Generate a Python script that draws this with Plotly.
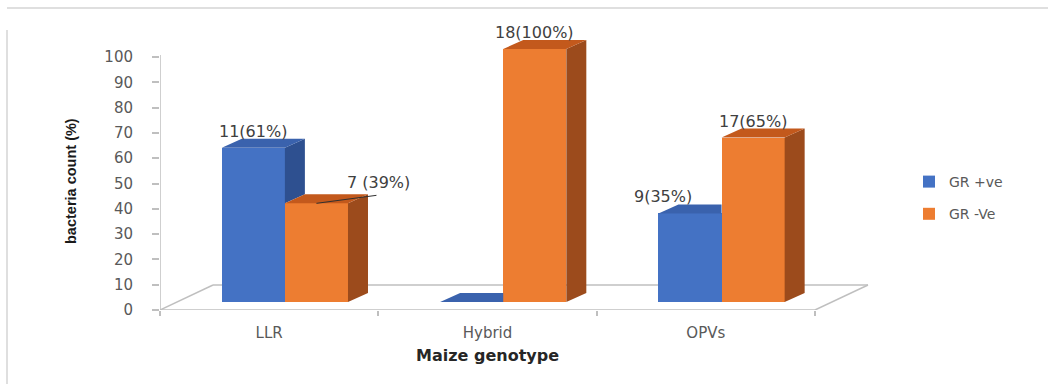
import plotly.graph_objects as go

# ---- data -------------------------------------------------------------
categories = ["LLR", "Hybrid", "OPVs"]
gr_pos_count = [11, 0, 9]
gr_pos_pct = [61, 0, 35]
gr_neg_count = [7, 18, 17]
gr_neg_pct = [39, 100, 65]
y_tick_values = list(range(0, 101, 10))
series_names = ["GR +ve", "GR -Ve"]

# ---- styling ------------------------------------------------------------
BLUE = {"front": "#4472C4", "side": "#2E5090", "top": "#3A62AD"}
ORANGE = {"front": "#ED7D31", "side": "#9C4B1C", "top": "#C3591C"}
GRID = "#BFBFBF"
TEXT = "#595959"
LABEL = "#404040"
FONT = "DejaVu Sans"

W, H = 1048, 384
PLOT_L, PLOT_R, PLOT_T, PLOT_B = 160, 900, 20, 310
PX_X = 655 / 3          # pixels per category
PX_Y = 2.53             # pixels per percentage point

X_RANGE = [-0.5, -0.5 + (PLOT_R - PLOT_L) / PX_X]
Y_RANGE = [0, (PLOT_B - PLOT_T) / PX_Y]

BASE = 8 / PX_Y                      # bars stand slightly back on the floor
DX, DY = 20 / PX_X, 9 / PX_Y         # depth of each box
BAR_W = 0.289
OFFSET_POS, OFFSET_NEG = -0.217, 0.072
FLOOR_DX, FLOOR_DY = 53 / PX_X, 25 / PX_Y

# label placement (pixel nudges from the top of each box)
pos_label_dx = [0, 0, -27]
neg_label_dx = [62, 0, 0]
pos_label_dy = [7.5, 7.5, 7.5]
neg_label_dy = [12, 7.5, 7.5]
neg_label_sep = [" ", "", ""]

xs = list(range(len(categories)))


def px_to_paper_x(px):
    return (px - PLOT_L) / (PLOT_R - PLOT_L)


def px_to_paper_y(py):
    return (PLOT_B - py) / (PLOT_B - PLOT_T)


def poly_trace(polys, color):
    px, py = [], []
    for poly in polys:
        for (a, b) in poly:
            px.append(a)
            py.append(b)
        px.append(poly[0][0])
        py.append(poly[0][1])
        px.append(None)
        py.append(None)
    return go.Scatter(x=px, y=py, mode="lines", fill="toself",
                      fillcolor=color, line=dict(width=0, color=color),
                      hoverinfo="skip", showlegend=False, connectgaps=False)


def box_faces(values, offset, neighbour=None):
    sides, tops = [], []
    for i, v in zip(xs, values):
        l = i + offset
        r = l + BAR_W
        top = BASE + v
        if neighbour is None:
            sides.append([(r, BASE), (r + DX, BASE + DY), (r + DX, top + DY), (r, top)])
            tops.append([(l, top), (r, top), (r + DX, top + DY), (l + DX, top + DY)])
        else:
            lower = BASE + neighbour[i]
            if top > lower:
                sides.append([(r, lower), (r + DX, lower + DY), (r + DX, top + DY), (r, top)])
            if lower >= top + DY:
                tops.append([(l, top), (r, top), (r, top + DY), (l + DX, top + DY)])
            else:
                tops.append([(l, top), (r, top), (r + DX, top + DY), (l + DX, top + DY)])
    return sides, tops


fig = go.Figure()

# front faces
fig.add_trace(go.Bar(x=xs, y=gr_pos_pct, base=BASE, width=BAR_W, offset=OFFSET_POS,
                     marker=dict(color=BLUE["front"], line=dict(width=0)),
                     name=series_names[0], legendgroup="a", hoverinfo="skip"))
fig.add_trace(go.Bar(x=xs, y=gr_neg_pct, base=BASE, width=BAR_W, offset=OFFSET_NEG,
                     marker=dict(color=ORANGE["front"], line=dict(width=0)),
                     name=series_names[1], legendgroup="b", hoverinfo="skip"))

# side and top faces
b_sides, b_tops = box_faces(gr_pos_pct, OFFSET_POS, neighbour=gr_neg_pct)
o_sides, o_tops = box_faces(gr_neg_pct, OFFSET_NEG)
fig.add_trace(poly_trace(b_sides, BLUE["side"]))
fig.add_trace(poly_trace(b_tops, BLUE["top"]))
fig.add_trace(poly_trace(o_sides, ORANGE["side"]))
fig.add_trace(poly_trace(o_tops, ORANGE["top"]))

# floor and value axis
x_lo, x_hi = -0.5, len(categories) - 0.5
y_top = y_tick_values[-1] + 2 / PX_Y
floor = [
    (x_lo, 0, x_hi, 0),
    (x_lo, 0, x_lo + FLOOR_DX, FLOOR_DY),
    (x_lo + FLOOR_DX, FLOOR_DY, x_hi + FLOOR_DX, FLOOR_DY),
    (x_hi, 0, x_hi + FLOOR_DX, FLOOR_DY),
    (x_lo, 0, x_lo, y_top),
]
for (a0, b0, a1, b1) in floor:
    fig.add_shape(type="line", xref="x", yref="y", x0=a0, y0=b0, x1=a1, y1=b1,
                  line=dict(color=GRID, width=1.5), layer="below")

# data labels
annotations = []
for i in xs:
    if gr_pos_count[i] > 0:
        annotations.append(dict(
            x=i + OFFSET_POS + BAR_W / 2 + pos_label_dx[i] / PX_X,
            y=BASE + gr_pos_pct[i] + DY, yshift=pos_label_dy[i],
            text=f"{gr_pos_count[i]}({gr_pos_pct[i]}%)"))
    annotations.append(dict(
        x=i + OFFSET_NEG + BAR_W / 2 + neg_label_dx[i] / PX_X,
        y=BASE + gr_neg_pct[i] + DY, yshift=neg_label_dy[i],
        text=f"{gr_neg_count[i]}{neg_label_sep[i]}({gr_neg_pct[i]}%)"))
for a in annotations:
    a.update(xref="x", yref="y", showarrow=False, yanchor="middle", xanchor="center",
             font=dict(family=FONT, size=16, color=LABEL))

# leader line for the displaced LLR label
lx0 = 0 + OFFSET_NEG + BAR_W / 2
ly0 = BASE + gr_neg_pct[0]
lx1 = lx0 + 60 / PX_X
ly1 = ly0 + 8 / PX_Y
fig.add_shape(type="line", xref="x", yref="y", x0=lx0, y0=ly0, x1=lx1, y1=ly1,
              line=dict(color="#303030", width=1))

# axis titles
annotations.append(dict(x=px_to_paper_x(487), xref="paper", y=px_to_paper_y(355), yref="paper",
                        text="<b>Maize genotype</b>", showarrow=False,
                        xanchor="center", yanchor="middle",
                        font=dict(family=FONT, size=16, color="#262626")))
annotations.append(dict(x=px_to_paper_x(71), xref="paper", y=px_to_paper_y(181), yref="paper",
                        text="<b>bacteria count (%)</b>", textangle=-90, showarrow=False,
                        xanchor="center", yanchor="middle",
                        font=dict(family="Liberation Sans", size=14.5, color="#1A1A1A")))

# outer frame
for (a0, b0, a1, b1) in [(7, 8, W, 8), (7, 30, 7, H)]:
    fig.add_shape(type="line", xref="paper", yref="paper",
                  x0=px_to_paper_x(a0), x1=px_to_paper_x(a1),
                  y0=px_to_paper_y(b0), y1=px_to_paper_y(b1),
                  line=dict(color="#D4D4D4", width=1.5))

fig.update_layout(
    width=W, height=H,
    margin=dict(l=PLOT_L, r=W - PLOT_R, t=PLOT_T, b=H - PLOT_B, pad=0),
    paper_bgcolor="white", plot_bgcolor="white",
    barmode="overlay", bargap=0,
    annotations=annotations,
    font=dict(family=FONT, color=TEXT),
    legend=dict(x=px_to_paper_x(909), xanchor="left",
                y=px_to_paper_y(198), yanchor="middle",
                traceorder="grouped", tracegroupgap=11,
                font=dict(family=FONT, size=14, color=TEXT), bgcolor="rgba(0,0,0,0)"),
    xaxis=dict(range=X_RANGE, showgrid=False, zeroline=False, showline=False,
               tickvals=xs, ticktext=categories, ticks="",
               tickfont=dict(family=FONT, size=15, color=TEXT), ticklabelstandoff=12,
               minor=dict(tickmode="array", tickvals=[x_lo + k for k in range(len(categories) + 1)],
                          ticks="outside", ticklen=5, tickcolor=GRID, tickwidth=1.5, showgrid=False),
               fixedrange=True),
    yaxis=dict(range=Y_RANGE, showgrid=False, zeroline=False, showline=False,
               tickvals=y_tick_values, ticks="outside", ticklen=7, tickcolor=GRID, tickwidth=1.5,
               tickfont=dict(family=FONT, size=15, color=TEXT), ticklabelstandoff=16,
               fixedrange=True),
)

fig.write_html("out.html")
